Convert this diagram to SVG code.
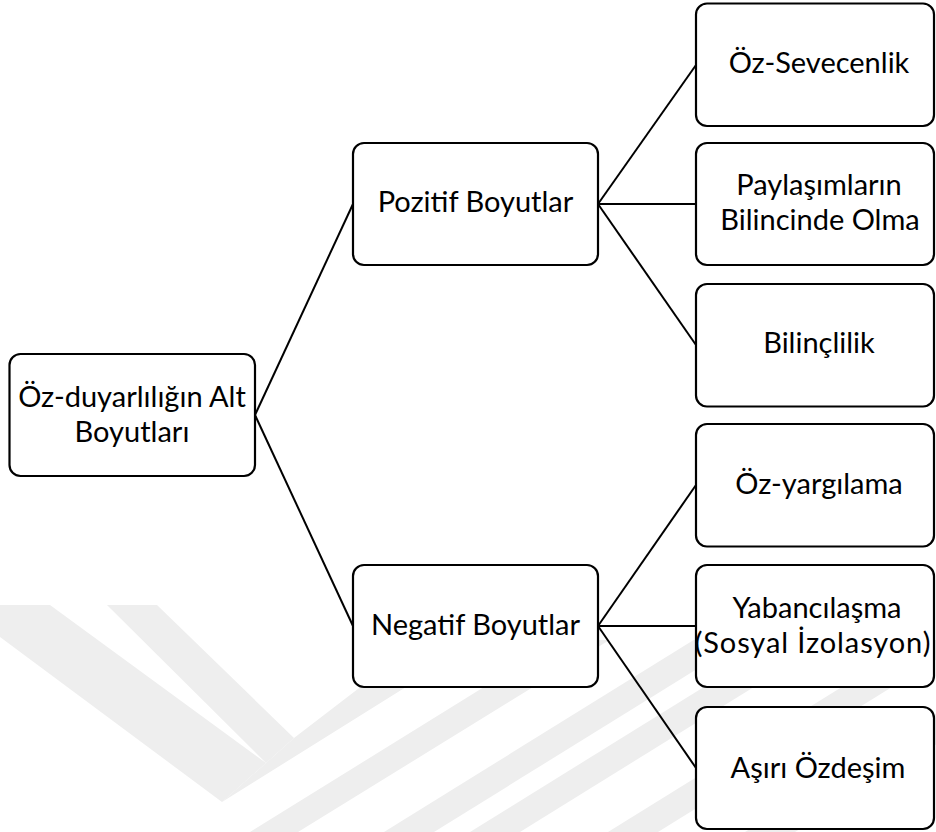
<svg xmlns="http://www.w3.org/2000/svg" width="936" height="832" viewBox="0 0 936 832">
  <style>
    .box { fill: #ffffff; stroke: #000000; stroke-width: 2.2; }
    .lbl { font-family: Lato, "Noto Sans", "DejaVu Sans", sans-serif; font-size: 29px; fill: #000000; text-anchor: middle; }
    .conn { stroke: #000000; stroke-width: 2; fill: none; }
    .wm { fill: #eeeeee; }
  </style>
  <defs>
    <clipPath id="wmclip">
      <polygon points="0,605 598,605 598,640 936,640 936,832 0,832"/>
    </clipPath>
  </defs>
  <rect x="0" y="0" width="936" height="832" fill="#ffffff"/>
  <g id="watermark" clip-path="url(#wmclip)">
    <polygon class="wm" points="0,605 50,605 266,763 222,802 0,637"/>
    <polygon class="wm" points="107,605 157,605 294,738 266,763"/>
    <polygon class="wm" points="222,802 266,763 294,738 380,672 430,672"/>
    <polygon class="wm" points="250,832 484,687 600,615 650,615 298,832"/>
    <polygon class="wm" points="384,832 734,615 784,615 434,832"/>
    <polygon class="wm" points="470,832 820,615 870,615 520,832"/>
    <polygon class="wm" points="608,832 958,615 1008,615 658,832"/>
    <polygon class="wm" points="745,832 1095,615 1145,615 795,832"/>
  </g>
  <g id="connectors">
    <line class="conn" x1="255" y1="415" x2="353" y2="204"/>
    <line class="conn" x1="255" y1="415" x2="353" y2="626"/>
    <line class="conn" x1="598" y1="204" x2="696" y2="65"/>
    <line class="conn" x1="598" y1="204" x2="696" y2="204"/>
    <line class="conn" x1="598" y1="204" x2="696" y2="345"/>
    <line class="conn" x1="598" y1="626" x2="696" y2="485"/>
    <line class="conn" x1="598" y1="626" x2="696" y2="626"/>
    <line class="conn" x1="598" y1="626" x2="696" y2="768"/>
  </g>
  <g id="root">
    <rect class="box" x="9.5" y="354" width="245.5" height="122" rx="11"/>
    <text class="lbl" x="132" y="407">Öz-duyarlılığın Alt</text>
    <text class="lbl" x="132" y="442">Boyutları</text>
  </g>
  <g id="pozitif">
    <rect class="box" x="353" y="143" width="245" height="122" rx="11"/>
    <text class="lbl" x="475.5" y="212">Pozitif Boyutlar</text>
  </g>
  <g id="negatif">
    <rect class="box" x="353" y="565" width="245" height="122" rx="11"/>
    <text class="lbl" x="475.5" y="635">Negatif Boyutlar</text>
  </g>
  <g id="oz-sevecenlik">
    <rect class="box" x="696" y="3.5" width="238" height="122.5" rx="11"/>
    <text class="lbl" x="819" y="73">Öz-Sevecenlik</text>
  </g>
  <g id="paylasimlarin">
    <rect class="box" x="696" y="143" width="238" height="122" rx="11"/>
    <text class="lbl" x="819" y="195">Paylaşımların</text>
    <text class="lbl" x="820" y="230">Bilincinde Olma</text>
  </g>
  <g id="bilinclilik">
    <rect class="box" x="696" y="284" width="238" height="122.5" rx="11"/>
    <text class="lbl" x="819" y="353">Bilinçlilik</text>
  </g>
  <g id="oz-yargilama">
    <rect class="box" x="696" y="424" width="238" height="122.5" rx="11"/>
    <text class="lbl" x="819" y="494">Öz-yargılama</text>
  </g>
  <g id="yabancilasma">
    <rect class="box" x="696" y="565" width="238" height="122" rx="11"/>
    <text class="lbl" x="817" y="618">Yabancılaşma</text>
    <text class="lbl" x="813" y="653" letter-spacing="0.9">(Sosyal İzolasyon)</text>
  </g>
  <g id="asiri-ozdesim">
    <rect class="box" x="696" y="707" width="238" height="122" rx="11"/>
    <text class="lbl" x="818" y="778">Aşırı Özdeşim</text>
  </g>
</svg>
